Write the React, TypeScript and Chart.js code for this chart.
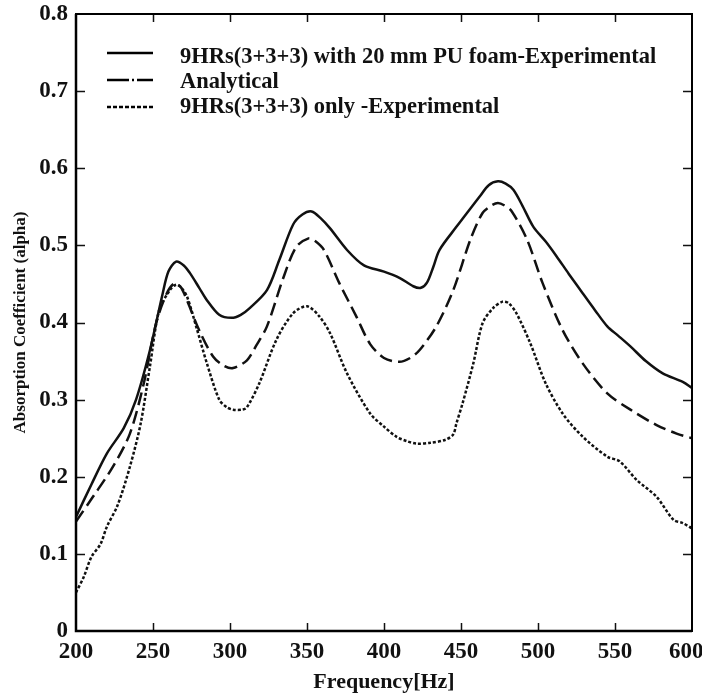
import React, { useEffect, useRef } from 'react';
import { Chart, registerables } from 'chart.js';

Chart.register(...registerables);

// Series: 9HRs(3+3+3) with 20 mm PU foam - Experimental
const foamFreq = [200, 210, 220, 231, 239, 248, 256, 260, 265, 270, 274, 280, 285, 293, 301, 307, 313, 324, 332, 341, 347, 353, 359, 365, 376, 387, 400, 410, 419, 424, 428, 432, 436, 447, 455, 462, 468, 474, 479, 484, 490, 497, 505, 512, 520, 529, 537, 545, 552, 560, 570, 581, 594, 600];
const foamAlpha = [0.148, 0.190, 0.230, 0.263, 0.300, 0.364, 0.435, 0.466, 0.479, 0.474, 0.464, 0.445, 0.429, 0.410, 0.406, 0.410, 0.419, 0.442, 0.481, 0.527, 0.540, 0.544, 0.535, 0.522, 0.494, 0.474, 0.466, 0.458, 0.447, 0.445, 0.452, 0.472, 0.494, 0.524, 0.545, 0.563, 0.578, 0.583, 0.580, 0.572, 0.551, 0.524, 0.505, 0.486, 0.463, 0.438, 0.416, 0.395, 0.383, 0.369, 0.350, 0.334, 0.323, 0.315];

// Series: Analytical
const anaFreq = [200, 211, 224, 235, 244, 252, 259, 264, 268, 272, 280, 289, 296, 302, 311, 317, 324, 335, 343, 351, 355, 361, 371, 382, 391, 400, 410, 417, 423, 434, 445, 456, 464, 470, 474, 478, 483, 493, 503, 516, 529, 545, 560, 577, 590, 600];
const anaAlpha = [0.142, 0.174, 0.213, 0.256, 0.321, 0.399, 0.438, 0.451, 0.446, 0.429, 0.390, 0.356, 0.344, 0.341, 0.351, 0.370, 0.395, 0.460, 0.498, 0.509, 0.506, 0.494, 0.451, 0.408, 0.372, 0.354, 0.349, 0.354, 0.364, 0.395, 0.442, 0.507, 0.542, 0.552, 0.555, 0.552, 0.544, 0.507, 0.451, 0.390, 0.347, 0.308, 0.287, 0.267, 0.256, 0.250];

// Series: 9HRs(3+3+3) only - Experimental
const onlyFreq = [200, 205, 210, 216, 220, 227, 235, 242, 248, 254, 261, 265, 268, 272, 278, 285, 293, 298, 302, 308, 311, 319, 330, 341, 350, 358, 365, 376, 391, 400, 408, 415, 421, 430, 440, 445, 447, 451, 458, 464, 471, 477, 481, 486, 495, 505, 516, 529, 545, 553, 564, 577, 588, 594, 600];
const onlyAlpha = [0.050, 0.070, 0.096, 0.113, 0.135, 0.163, 0.213, 0.269, 0.343, 0.416, 0.442, 0.449, 0.446, 0.434, 0.395, 0.347, 0.300, 0.290, 0.287, 0.287, 0.290, 0.321, 0.377, 0.412, 0.421, 0.408, 0.386, 0.334, 0.282, 0.265, 0.252, 0.246, 0.243, 0.244, 0.248, 0.255, 0.269, 0.295, 0.347, 0.399, 0.419, 0.427, 0.425, 0.412, 0.373, 0.321, 0.282, 0.252, 0.226, 0.220, 0.196, 0.174, 0.144, 0.140, 0.133];

const legendLabels = [
  '9HRs(3+3+3) with 20 mm PU foam-Experimental',
  'Analytical',
  '9HRs(3+3+3) only -Experimental',
];
const xTitle = 'Frequency[Hz]';
const yTitle = 'Absorption Coefficient (alpha)';

const FONT = '"Liberation Serif", "Times New Roman", serif';

const toPoints = (xs: number[], ys: number[]) => xs.map((x, i) => ({ x, y: ys[i] }));

const framePlugin = {
  id: 'frameTicks',
  afterDraw(chart: any) {
    const { ctx, chartArea, scales } = chart;
    const { left, right, top, bottom } = chartArea;
    const xs = scales.x;
    const ys = scales.y;
    ctx.save();
    ctx.strokeStyle = '#111';
    ctx.lineWidth = 1.5;
    ctx.beginPath();
    xs.ticks.forEach((t: any) => {
      const px = Math.round(xs.getPixelForValue(t.value)) + 0.5;
      if (px <= left + 2 || px >= right - 2) return;
      ctx.moveTo(px, bottom);
      ctx.lineTo(px, bottom - 8);
      ctx.moveTo(px, top);
      ctx.lineTo(px, top + 8);
    });
    ys.ticks.forEach((t: any) => {
      const py = Math.round(ys.getPixelForValue(t.value)) + 0.5;
      if (py <= top + 2 || py >= bottom - 2) return;
      ctx.moveTo(left, py);
      ctx.lineTo(left + 9, py);
      ctx.moveTo(right, py);
      ctx.lineTo(right - 9, py);
    });
    ctx.stroke();
    ctx.lineWidth = 2;
    ctx.strokeStyle = '#000';
    ctx.strokeRect(left, top, right - left, bottom - top);
    ctx.lineWidth = 2.5;
    ctx.beginPath();
    ctx.moveTo(left, top);
    ctx.lineTo(left, bottom);
    ctx.lineTo(right, bottom);
    ctx.stroke();
    ctx.restore();
  },
};

const legendPlugin = {
  id: 'customLegend',
  afterDraw(chart: any) {
    const { ctx } = chart;
    const dsets = chart.data.datasets;
    const rows = [
      { ly: 53, ty: 63, dash: [] as number[] },
      { ly: 80, ty: 88, dash: [22, 3, 2, 3] },
      { ly: 107, ty: 113, dash: [4, 2] },
    ];
    ctx.save();
    rows.forEach((r, i) => {
      ctx.strokeStyle = '#000';
      ctx.lineWidth = dsets[i].borderWidth;
      ctx.setLineDash(r.dash);
      ctx.beginPath();
      ctx.moveTo(107, r.ly);
      ctx.lineTo(153, r.ly);
      ctx.stroke();
      ctx.setLineDash([]);
      ctx.fillStyle = '#111';
      ctx.font = `bold 22.5px ${FONT}`;
      ctx.textAlign = 'left';
      ctx.textBaseline = 'alphabetic';
      ctx.fillText(dsets[i].label, 180, r.ty);
    });
    ctx.restore();
  },
};

export default function App() {
  const ref = useRef<HTMLCanvasElement>(null);

  useEffect(() => {
    document.body.style.margin = '0';
    const canvas = ref.current;
    if (!canvas) return;
    const tickFont = { family: FONT, weight: 'bold' as const, size: 23 };
    const chart = new Chart(canvas, {
      type: 'scatter',
      data: {
        datasets: [
          {
            label: legendLabels[0],
            data: toPoints(foamFreq, foamAlpha),
            showLine: true,
            borderColor: '#111',
            borderWidth: 2.5,
            pointRadius: 0,
            tension: 0.3,
          },
          {
            label: legendLabels[1],
            data: toPoints(anaFreq, anaAlpha),
            showLine: true,
            borderColor: '#111',
            borderWidth: 2.5,
            borderDash: [13, 6],
            pointRadius: 0,
            tension: 0.3,
          },
          {
            label: legendLabels[2],
            data: toPoints(onlyFreq, onlyAlpha),
            showLine: true,
            borderColor: '#111',
            borderWidth: 2.5,
            borderDash: [3, 2],
            pointRadius: 0,
            tension: 0.3,
          },
        ],
      },
      options: {
        responsive: false,
        animation: false,
        devicePixelRatio: 1,
        layout: { padding: { top: 14, right: 10, left: 0, bottom: 0 } },
        plugins: {
          legend: { display: false },
          tooltip: { enabled: false },
        },
        scales: {
          x: {
            type: 'linear',
            min: 200,
            max: 600,
            grid: { display: false, drawTicks: false },
            border: { display: false },
            ticks: {
              stepSize: 50,
              color: '#111',
              font: tickFont,
              padding: 7,
              maxRotation: 0,
              callback: (v: any) => (v === 600 ? '600\u00a0\u00a0' : String(v)),
            },
            title: {
              display: true,
              text: xTitle,
              color: '#111',
              font: { family: FONT, weight: 'bold', size: 22 },
              padding: { top: 0, bottom: 0 },
            },
            afterFit: (s: any) => {
              s.height = 65;
              s.paddingLeft = 0;
              s.paddingRight = 0;
            },
          },
          y: {
            type: 'linear',
            min: 0,
            max: 0.8,
            grid: { display: false, drawTicks: false },
            border: { display: false },
            ticks: {
              stepSize: 0.1,
              color: '#111',
              font: tickFont,
              padding: 8,
              callback: (v: any) => (v === 0 ? '0' : Number(v).toFixed(1)),
            },
            title: {
              display: true,
              text: yTitle,
              color: '#111',
              font: { family: FONT, weight: 'bold', size: 17 },
              padding: { top: 10, bottom: 0 },
            },
            afterFit: (s: any) => {
              s.width = 76;
              s.paddingTop = 0;
              s.paddingBottom = 0;
            },
          },
        },
      },
      plugins: [framePlugin, legendPlugin],
    });
    return () => chart.destroy();
  }, []);

  return (
    <div style={{ position: 'absolute', left: 0, top: 0, width: 702, height: 696, background: '#fff' }}>
      <canvas ref={ref} width={702} height={696} style={{ display: 'block' }} />
    </div>
  );
}
